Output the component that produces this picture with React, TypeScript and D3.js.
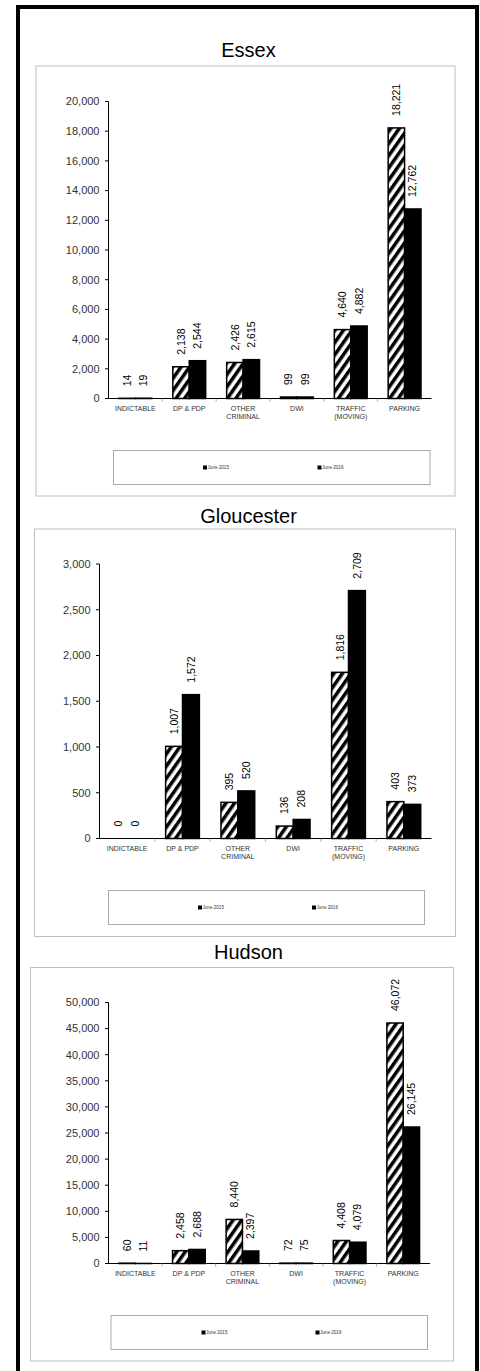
import React from "react";
import * as d3 from "d3";

const categories: string[][] = [
  ["INDICTABLE"],
  ["DP & PDP"],
  ["OTHER", "CRIMINAL"],
  ["DWI"],
  ["TRAFFIC", "(MOVING)"],
  ["PARKING"],
];
const seriesNames = ["June 2015", "June 2016"];

const essex2015 = [14, 2138, 2426, 99, 4640, 18221];
const essex2016 = [19, 2544, 2615, 99, 4882, 12762];
const essexTicks = [0, 2000, 4000, 6000, 8000, 10000, 12000, 14000, 16000, 18000, 20000];

const glou2015 = [0, 1007, 395, 136, 1816, 403];
const glou2016 = [0, 1572, 520, 208, 2709, 373];
const glouTicks = [0, 500, 1000, 1500, 2000, 2500, 3000];

const hudson2015 = [60, 2458, 8440, 72, 4408, 46072];
const hudson2016 = [11, 2688, 2397, 75, 4079, 26145];
const hudsonTicks = [0, 5000, 10000, 15000, 20000, 25000, 30000, 35000, 40000, 45000, 50000];

const FONT = "'Liberation Sans', Arial, sans-serif";
const fmt = d3.format(",");

type Layout = {
  title: string;
  titleY: number;
  titleX: number;
  panel: [number, number, number, number];
  axisX: number;
  y0: number;
  yTop: number;
  xEnd: number;
  legend: [number, number, number, number];
  legendXs: [number, number];
  legendY: number;
};

const panels: { layout: Layout; s1: number[]; s2: number[]; ticks: number[] }[] = [
  {
    layout: {
      title: "Essex", titleY: 57, titleX: 248.5,
      panel: [36, 66, 455, 496], axisX: 108.5, y0: 398.5, yTop: 101.5, xEnd: 431.5,
      legend: [113.5, 450.5, 430, 484.5], legendXs: [203, 317.5], legendY: 467.5,
    },
    s1: essex2015, s2: essex2016, ticks: essexTicks,
  },
  {
    layout: {
      title: "Gloucester", titleY: 523, titleX: 248.5,
      panel: [34.5, 529, 455.5, 936.5], axisX: 99.5, y0: 838.5, yTop: 564, xEnd: 431.5,
      legend: [108.5, 890.5, 424.5, 924.5], legendXs: [198, 312], legendY: 907.5,
    },
    s1: glou2015, s2: glou2016, ticks: glouTicks,
  },
  {
    layout: {
      title: "Hudson", titleY: 958.5, titleX: 248.5,
      panel: [30.5, 967.5, 453.5, 1361], axisX: 108.5, y0: 1263.5, yTop: 1002.5, xEnd: 430,
      legend: [111, 1315.5, 427.5, 1349.5], legendXs: [201.5, 315.5], legendY: 1332.5,
    },
    s1: hudson2015, s2: hudson2016, ticks: hudsonTicks,
  },
];

function Panel({ layout, s1, s2, ticks }: { layout: Layout; s1: number[]; s2: number[]; ticks: number[] }) {
  const L = layout;
  const maxT = ticks[ticks.length - 1];
  const y = d3.scaleLinear().domain([0, maxT]).range([L.y0, L.yTop]);
  const x = d3
    .scaleBand<number>()
    .domain(categories.map((_, i) => i))
    .range([L.axisX, L.xEnd])
    .paddingInner(0)
    .paddingOuter(0);
  const bw = x.bandwidth() * 0.305;
  const series = [s1, s2];
  return (
    <g>
      <text x={L.titleX} y={L.titleY} textAnchor="middle" fontFamily={FONT} fontSize={20} fill="#000">
        {L.title}
      </text>
      <rect
        x={L.panel[0]}
        y={L.panel[1]}
        width={L.panel[2] - L.panel[0]}
        height={L.panel[3] - L.panel[1]}
        fill="#fff"
        stroke="#bdbdbd"
        strokeWidth={1}
      />
      {/* y axis */}
      <line x1={L.axisX} x2={L.axisX} y1={L.yTop} y2={L.y0} stroke="#000" strokeWidth={1} />
      {ticks.map((t) => (
        <g key={t}>
          <line x1={L.axisX - 3.5} x2={L.axisX} y1={y(t)} y2={y(t)} stroke="#000" strokeWidth={1} />
          <text
            x={L.axisX - 9}
            y={y(t)}
            dy="0.35em"
            textAnchor="end"
            fontFamily={FONT}
            fontSize={11}
            fill="#333"
          >
            {fmt(t)}
          </text>
        </g>
      ))}
      {/* bars */}
      {series.map((s, si) =>
        s.map((v, i) => {
          if (v === 0) return null;
          const cx = (x(i) as number) + x.bandwidth() / 2;
          const bx = si === 0 ? cx - bw : cx;
          const top = y(v);
          return (
            <rect
              key={`${si}-${i}`}
              x={bx}
              y={top}
              width={bw}
              height={L.y0 - top}
              fill={si === 0 ? "url(#hatch)" : "#000"}
              stroke="#000"
              strokeWidth={1.5}
            />
          );
        })
      )}
      {/* value labels */}
      {series.map((s, si) =>
        s.map((v, i) => {
          const cx = (x(i) as number) + x.bandwidth() / 2;
          const lx = si === 0 ? cx - bw / 2 : cx + bw / 2;
          const ly = y(v) - 12;
          return (
            <text
              key={`l${si}-${i}`}
              transform={`translate(${lx},${ly}) rotate(-90)`}
              dy="0.35em"
              textAnchor="start"
              fontFamily={FONT}
              fontSize={10.5}
              fill="#000"
            >
              {fmt(v)}
            </text>
          );
        })
      )}
      {/* x axis */}
      <line x1={L.axisX} x2={L.xEnd} y1={L.y0} y2={L.y0} stroke="#000" strokeWidth={1} />
      {categories.map((_, i) =>
        i === 0 ? null : (
          <line
            key={`t${i}`}
            x1={x(i) as number}
            x2={x(i) as number}
            y1={L.y0}
            y2={L.y0 + 3}
            stroke="#888"
            strokeWidth={0.75}
          />
        )
      )}
      {categories.map((lines, i) => (
        <text
          key={`c${i}`}
          x={(x(i) as number) + x.bandwidth() / 2}
          y={L.y0 + 12}
          textAnchor="middle"
          fontFamily={FONT}
          fontSize={7}
          fill="#333"
        >
          {lines.map((ln, k) => (
            <tspan key={k} x={(x(i) as number) + x.bandwidth() / 2} dy={k === 0 ? 0 : 8}>
              {ln}
            </tspan>
          ))}
        </text>
      ))}
      {/* legend */}
      <rect
        x={L.legend[0]}
        y={L.legend[1]}
        width={L.legend[2] - L.legend[0]}
        height={L.legend[3] - L.legend[1]}
        fill="#fff"
        stroke="#aaa"
        strokeWidth={1}
      />
      {seriesNames.map((n, k) => (
        <g key={n}>
          <rect x={L.legendXs[k]} y={L.legendY - 2} width={4} height={4} fill="#000" />
          <text
            x={L.legendXs[k] + 4.5}
            y={L.legendY}
            dy="0.35em"
            fontFamily={FONT}
            fontSize={4.6}
            fill="#333"
          >
            {n}
          </text>
        </g>
      ))}
    </g>
  );
}

export default function App() {
  return (
    <div style={{ position: "absolute", left: 0, top: 0 }}>
      <svg width={480} height={1371} style={{ display: "block", background: "#fff" }}>
        <defs>
          <pattern
            id="hatch"
            patternUnits="userSpaceOnUse"
            width={7}
            height={10}
            patternTransform="rotate(35)"
          >
            <rect x={0} y={0} width={7} height={10} fill="#fff" />
            <rect x={0} y={0} width={3.5} height={10} fill="#000" />
          </pattern>
        </defs>
        <rect x={0} y={0} width={480} height={1371} fill="#fff" />
        <rect x={18} y={7} width={459} height={1380} fill="none" stroke="#000" strokeWidth={4} />
        {panels.map((p) => (
          <Panel key={p.layout.title} layout={p.layout} s1={p.s1} s2={p.s2} ticks={p.ticks} />
        ))}
      </svg>
    </div>
  );
}
